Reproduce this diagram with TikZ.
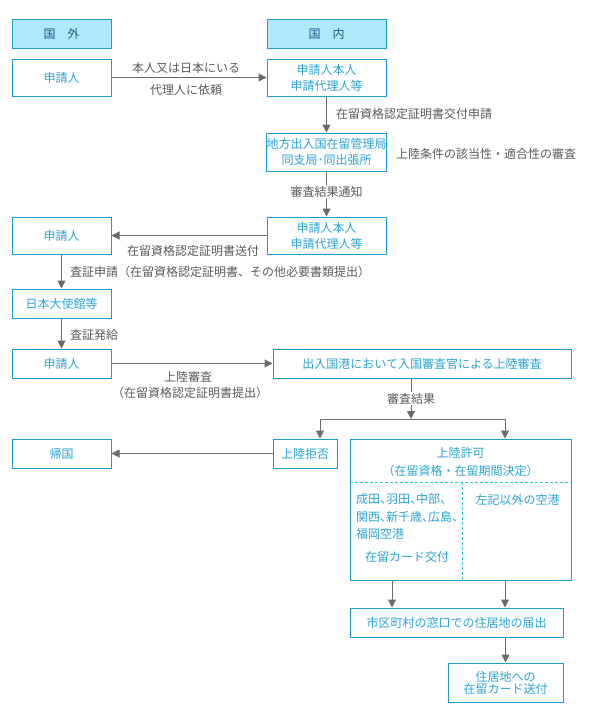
\documentclass[tikz,border=0pt]{standalone}
\usepackage{fontspec}
\setmainfont{Noto Sans CJK JP}
\newfontfamily\paltfont[RawFeature=+palt]{Noto Sans CJK JP}
\usepackage{xcolor}
\usepackage{tikz}
\usetikzlibrary{positioning,calc,arrows.meta}

\definecolor{lineblue}{HTML}{1B9BCB}
\definecolor{textblue}{HTML}{29A3D5}
\definecolor{headfill}{HTML}{AEE8FB}
\definecolor{headtext}{HTML}{1D5E8A}
\definecolor{arrgray}{HTML}{6A6A6A}
\definecolor{labgray}{HTML}{5A5A5A}
\definecolor{dashcyan}{HTML}{2CC8CC}

\tikzset{
    box/.style={draw=lineblue, line width=1pt, text=textblue, align=center, inner sep=0pt, font=\fontsize{12}{16}\selectfont},
    head/.style={box, fill=headfill, text=headtext},
    boxtext/.style={text=textblue, inner sep=0pt, font=\fontsize{12}{16}\selectfont},
    lab/.style={text=labgray, inner sep=1pt, font=\fontsize{12}{16}\selectfont},
    arr/.style={draw=arrgray, line width=1pt, -{Triangle[length=8pt,width=8pt]}},
    dashline/.style={draw=dashcyan, line width=1pt, dash pattern=on 3pt off 2pt}
}

\begin{document}
\begin{tikzpicture}[x=1pt,y=-1pt]
    \useasboundingbox (0,0) rectangle (590,720);

    % Headers
    \node [head, minimum width=99pt, minimum height=29pt] (hdrOut) at (61.5,33.5) {国　外};
    \node [head, minimum width=119pt, minimum height=29pt] (hdrIn) at (326.5,33.5) {国　内};

    % Left column (abroad)
    \foreach \name/\y/\h/\txt in {appA/77.5/37pt/申請人, appB/235.5/37pt/申請人, embassy/303.5/29pt/日本大使館等, appC/363.5/29pt/申請人, home/453.5/29pt/帰国} {
        \node [box, minimum width=99pt, minimum height=\h] (\name) at (61.5,\y) {\txt};
    }

    % Right column (in Japan)
    \node [box, minimum width=119pt, minimum height=37pt] (agentA) at (326.5,77.5) {申請人本人\\申請代理人等};
    \node [box, minimum width=119pt, minimum height=38pt] (office) at (326.5,152) {地方出入国在留管理局\\同支局･同出張所};
    \node [box, minimum width=119pt, minimum height=37pt] (agentB) at (326.5,235.5) {申請人本人\\申請代理人等};
    \node [box, minimum width=298pt, minimum height=29pt] (port) at (422,363.5) {出入国港において入国審査官による上陸審査};
    \node [box, minimum width=64pt, minimum height=29pt] (refuse) at (305,453.5) {上陸拒否};
    \node [box, minimum width=221pt, minimum height=141pt] (permit) at (460.5,509.5) {};
    \node [box, minimum width=213pt, minimum height=29pt] (city) at (456.5,622.5) {市区町村の窓口での住居地の届出};
    \node [box, minimum width=115pt, minimum height=39pt, font=\fontsize{12}{12}\selectfont] (card) at (505.5,682.5) {住居地への\\在留カード送付};

    % Inside of the landing permission box
    \node [boxtext, align=center, font=\fontsize{12}{18}\selectfont] (permitT) at (460.5,462) {上陸許可\\（在留資格・在留期間決定）};
    \coordinate (divY) at (0,482);
    \coordinate (divX) at (462,0);
    \draw [dashline] (permit.west |- divY) -- (permit.east |- divY);
    \draw [dashline] (divX |- divY) -- (divX |- permit.south);
    \foreach \i/\txt in {0/成田、羽田、中部、, 1/関西、新千歳、広島、, 2/福岡空港} {
        \node [boxtext, anchor=west, font=\fontsize{12}{16}\paltfont] (air\i) at (356,499+\i*17.5) {\txt};
    }
    \node [boxtext] (cardIssue) at (407,557) {在留カード交付};
    \node [boxtext] (otherAir) at (517.5,500) {左記以外の空港};

    % Connectors
    \draw [arr] (appA) -- (agentA);
    \node [lab] (askTop) at (186,68) {本人又は日本にいる};
    \node [lab] (askBot) at (186,90) {代理人に依頼};

    \draw [arr] (agentA) -- (office);
    \node [lab, anchor=west] (applyLab) at (335,114) {在留資格認定証明書交付申請};
    \node [lab, anchor=west] (checkLab) at (395,154) {上陸条件の該当性・適合性の審査};

    \draw [arr] (office) -- (agentB) node [lab, fill=white, pos=0.45] (notice) {審査結果通知};

    \draw [arr] (agentB) -- (appB);
    \node [lab] (sendLab) at (193,251) {在留資格認定証明書送付};

    \draw [arr] (appB) -- (embassy);
    \node [lab, anchor=west] (visaLab) at (69,272) {査証申請（在留資格認定証明書、その他必要書類提出）};

    \draw [arr] (embassy) -- (appC);
    \node [lab, anchor=west] (issueLab) at (69,335) {査証発給};

    \draw [arr] (appC) -- (port);
    \node [lab] (landLab) at (188,377) {上陸審査};
    \node [lab] (landSub) at (190,393) {（在留資格認定証明書提出）};

    % Result branch
    \coordinate (split) at (411,419);
    \coordinate (colL) at (392,0);
    \coordinate (colR) at (505,0);
    \draw [arr] (port.south -| split) -- (split) node [lab, fill=white, midway] (resLab) {審査結果};
    \draw [arr] (split) -| ($(refuse.north)+(15,0)$);
    \draw [arr] (split) -| (permit.north -| colR);
    \draw [arr] (refuse) -- (home);

    \draw [arr] (permit.south -| colL) -- (city.north -| colL);
    \draw [arr] (permit.south -| colR) -- (city.north -| colR);
    \draw [arr] (city.south -| card) -- (card);
\end{tikzpicture}
\end{document}
